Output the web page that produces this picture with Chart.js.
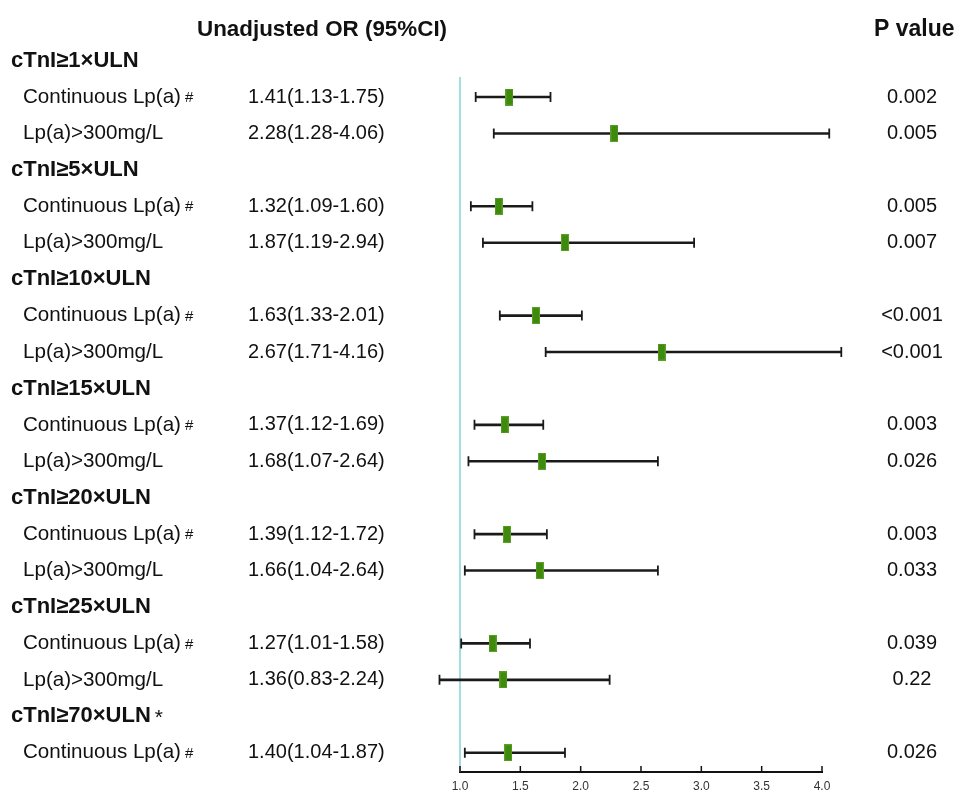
<!DOCTYPE html>
<html>
<head>
<meta charset="utf-8">
<script src="https://cdn.jsdelivr.net/npm/chart.js@4"></script>
<style>
  html, body { margin: 0; padding: 0; background: #ffffff; }
  #wrap { width: 955px; height: 792px; position: relative; }
</style>
</head>
<body>
<div id="wrap"><canvas id="c" width="955" height="792"></canvas></div>
<script>
// ---- data ----
const groupNames = ['cTnI≥1×ULN', 'cTnI≥5×ULN', 'cTnI≥10×ULN', 'cTnI≥15×ULN', 'cTnI≥20×ULN', 'cTnI≥25×ULN', 'cTnI≥70×ULN'];
const groupMarks = ['', '', '', '', '', '', '*'];
const rowsPerGroup = [2, 2, 2, 2, 2, 2, 1];
const rowNames = [
  'Continuous Lp(a)', 'Lp(a)>300mg/L',
  'Continuous Lp(a)', 'Lp(a)>300mg/L',
  'Continuous Lp(a)', 'Lp(a)>300mg/L',
  'Continuous Lp(a)', 'Lp(a)>300mg/L',
  'Continuous Lp(a)', 'Lp(a)>300mg/L',
  'Continuous Lp(a)', 'Lp(a)>300mg/L',
  'Continuous Lp(a)'
];
const rowMarks = ['#', '', '#', '', '#', '', '#', '', '#', '', '#', '', '#'];
const orValues = [1.41, 2.28, 1.32, 1.87, 1.63, 2.67, 1.37, 1.68, 1.39, 1.66, 1.27, 1.36, 1.40];
const ciLower  = [1.13, 1.28, 1.09, 1.19, 1.33, 1.71, 1.12, 1.07, 1.12, 1.04, 1.01, 0.83, 1.04];
const ciUpper  = [1.75, 4.06, 1.60, 2.94, 2.01, 4.16, 1.69, 2.64, 1.72, 2.64, 1.58, 2.24, 1.87];
const pValues  = ['0.002', '0.005', '0.005', '0.007', '<0.001', '<0.001', '0.003', '0.026', '0.003', '0.033', '0.039', '0.22', '0.026'];
const xTicks   = [1.0, 1.5, 2.0, 2.5, 3.0, 3.5, 4.0];
const headerOR = 'Unadjusted OR (95%CI)';
const headerP  = 'P value';

// ---- layout of rows (group header row followed by its entries) ----
const groupRow = [];
const entryRow = [];
let r = 0;
rowsPerGroup.forEach((n, g) => {
  groupRow.push(r); r++;
  for (let k = 0; k < n; k++) { entryRow.push(r); r++; }
});

// marker image
const marker = document.createElement('canvas');
marker.width = 8; marker.height = 17;
(function () {
  const m = marker.getContext('2d');
  m.fillStyle = '#5a9f2a';
  m.fillRect(0, 0, 8, 17);
  m.fillStyle = '#3f8a0c';
  m.fillRect(1, 1, 6, 15);
})();

const FONT = '"Liberation Sans", Arial, sans-serif';

const forestPlugin = {
  id: 'forest',
  beforeDatasetsDraw(chart) {
    const { ctx, scales: { x, y }, chartArea } = chart;
    ctx.save();
    // reference line at OR = 1
    ctx.strokeStyle = '#86d0d6';
    ctx.lineWidth = 1.5;
    const x1 = x.getPixelForValue(1);
    ctx.beginPath();
    ctx.moveTo(x1, chartArea.top);
    ctx.lineTo(x1, chartArea.bottom);
    ctx.stroke();
    // CI whiskers
    ctx.strokeStyle = '#1a1a1a';
    orValues.forEach((v, i) => {
      const py = y.getPixelForValue(entryRow[i]);
      const a = x.getPixelForValue(ciLower[i]);
      const b = x.getPixelForValue(ciUpper[i]);
      ctx.lineWidth = 2.6;
      ctx.beginPath();
      ctx.moveTo(a, py);
      ctx.lineTo(b, py);
      ctx.stroke();
      ctx.lineWidth = 1.8;
      ctx.beginPath();
      ctx.moveTo(a, py - 5); ctx.lineTo(a, py + 5);
      ctx.moveTo(b, py - 5); ctx.lineTo(b, py + 5);
      ctx.stroke();
    });
    ctx.restore();
  },
  afterDraw(chart) {
    const { ctx, scales: { x, y }, chartArea } = chart;
    ctx.save();
    // axis tick marks pointing up
    ctx.strokeStyle = '#111';
    ctx.lineWidth = 1.5;
    xTicks.forEach(t => {
      const px = x.getPixelForValue(t);
      ctx.beginPath();
      ctx.moveTo(px, chartArea.bottom);
      ctx.lineTo(px, chartArea.bottom - 6);
      ctx.stroke();
    });
    ctx.fillStyle = '#111';
    ctx.textBaseline = 'middle';
    // headers
    ctx.font = 'bold 22.4px ' + FONT;
    ctx.textAlign = 'left';
    ctx.fillText(headerOR, 197, 30);
    ctx.font = 'bold 23px ' + FONT;
    ctx.fillText(headerP, 874, 30);
    // group headers
    groupNames.forEach((g, i) => {
      const py = y.getPixelForValue(groupRow[i]);
      ctx.font = 'bold 22px ' + FONT;
      ctx.textAlign = 'left';
      ctx.fillText(g, 11, py);
      if (groupMarks[i]) {
        const w = ctx.measureText(g).width;
        ctx.font = '21px ' + FONT;
        ctx.fillText(groupMarks[i], 11 + w + 4, py + 2);
      }
    });
    // entries
    rowNames.forEach((n, i) => {
      const py = y.getPixelForValue(entryRow[i]);
      ctx.font = '20.6px ' + FONT;
      ctx.textAlign = 'left';
      ctx.fillText(n, 23, py);
      if (rowMarks[i]) {
        const w = ctx.measureText(n).width;
        ctx.font = '15px ' + FONT;
        ctx.fillText(rowMarks[i], 23 + w + 4, py + 1);
      }
      ctx.font = '20px ' + FONT;
      const txt = orValues[i].toFixed(2) + '(' + ciLower[i].toFixed(2) + '-' + ciUpper[i].toFixed(2) + ')';
      ctx.fillText(txt, 248, py);
      ctx.textAlign = 'center';
      ctx.fillText(pValues[i], 912, py);
    });
    ctx.restore();
  }
};

new Chart(document.getElementById('c'), {
  type: 'scatter',
  data: {
    datasets: [{
      data: orValues.map((v, i) => ({ x: v, y: entryRow[i] })),
      pointStyle: marker,
      pointRadius: 5,
      pointHoverRadius: 5
    }]
  },
  options: {
    responsive: false,
    animation: false,
    events: [],
    layout: { padding: { left: 460, right: 133, top: 77, bottom: 0 } },
    plugins: { legend: { display: false }, tooltip: { enabled: false } },
    scales: {
      x: {
        type: 'linear',
        min: 1, max: 4,
        afterFit(s) { s.height = 20; },
        afterBuildTicks(s) { s.ticks = xTicks.map(v => ({ value: v })); },
        grid: { display: false, drawTicks: false },
        border: { display: true, color: '#111', width: 2 },
        ticks: {
          padding: 7,
          color: '#333',
          font: { family: FONT, size: 12 },
          callback: v => Number(v).toFixed(1),
          maxRotation: 0,
          autoSkip: false
        }
      },
      y: {
        type: 'linear',
        reverse: true,
        min: 0.45, max: 19.53,
        display: false
      }
    }
  },
  plugins: [forestPlugin]
});
</script>
</body>
</html>
